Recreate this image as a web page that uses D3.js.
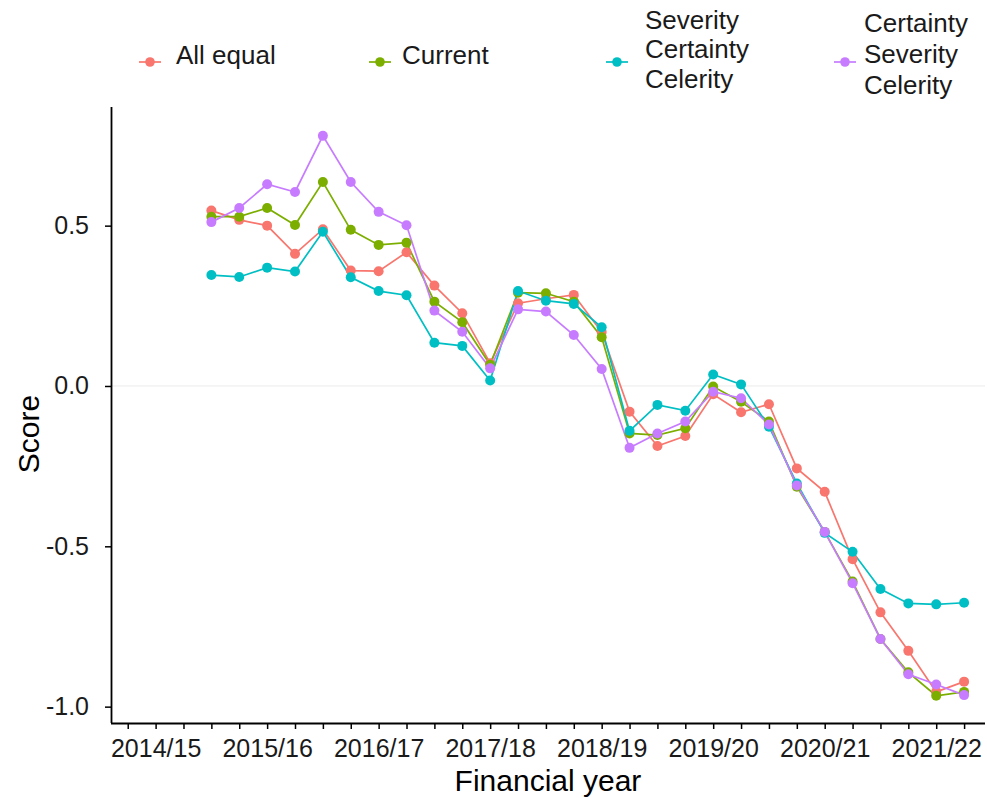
<!DOCTYPE html>
<html>
<head>
<meta charset="utf-8">
<script src="https://cdn.jsdelivr.net/npm/d3@7"></script>
<style>
  html, body { margin: 0; padding: 0; background: #fff; }
  svg { display: block; font-family: "Liberation Sans", Arial, sans-serif; }
</style>
</head>
<body>
<svg id="chart" width="987" height="798"></svg>
<script>
// Quarter index (0 = start of 2014/15 label position)
const quarters = [2,3,4,5,6,7,8,9,10,11,12,13,14,15,16,17,18,19,20,21,22,23,24,25,26,27,28,29];
const yearLabels = ["2014/15","2015/16","2016/17","2017/18","2018/19","2019/20","2020/21","2021/22"];
const yearTickQuarters = [0,4,8,12,16,20,24,28];
const yTicks = [0.5, 0.0, -0.5, -1.0];

const seriesNames = ["All equal", "Current", "Severity\nCertainty\nCelerity", "Certainty\nSeverity\nCelerity"];
const seriesColors = ["#F8766D", "#7CAE00", "#00BFC4", "#C77CFF"];

const allEqual = [0.547,0.518,0.500,0.412,0.489,0.360,0.358,0.417,0.313,0.227,0.071,0.258,0.272,0.284,0.168,-0.080,-0.187,-0.156,-0.026,-0.082,-0.057,-0.257,-0.330,-0.540,-0.706,-0.826,-0.954,-0.922];
const current = [0.528,0.528,0.555,0.502,0.636,0.487,0.440,0.447,0.263,0.199,0.066,0.291,0.289,0.263,0.152,-0.148,-0.153,-0.132,-0.002,-0.049,-0.111,-0.314,-0.455,-0.610,-0.789,-0.893,-0.966,-0.954];
const sevCertCel = [0.346,0.340,0.369,0.357,0.481,0.339,0.296,0.283,0.135,0.125,0.017,0.296,0.266,0.256,0.183,-0.140,-0.059,-0.077,0.036,0.005,-0.127,-0.304,-0.458,-0.517,-0.633,-0.678,-0.681,-0.676];
const certSevCel = [0.511,0.555,0.629,0.605,0.780,0.636,0.543,0.501,0.235,0.169,0.055,0.239,0.232,0.159,0.053,-0.193,-0.148,-0.111,-0.018,-0.038,-0.120,-0.310,-0.455,-0.615,-0.789,-0.899,-0.931,-0.964];

const seriesValues = [allEqual, current, sevCertCel, certSevCel];

const svg = d3.select("#chart");
const mLeft = 111, mRight = 985, mTop = 107, mBottom = 723;

const x = d3.scaleLinear().domain([-1.6, 29.75]).range([mLeft, mRight]);
const y = d3.scaleLinear().domain([0.87, -1.051]).range([mTop, mBottom]);

// zero reference line
svg.append("line")
  .attr("x1", mLeft).attr("x2", mRight)
  .attr("y1", y(0)).attr("y2", y(0))
  .attr("stroke", "#ebebeb").attr("stroke-width", 1);

// axes
const xAxis = d3.axisBottom(x)
  .tickValues(d3.range(-1, 30))
  .tickSize(6)
  .tickFormat(q => {
    const i = yearTickQuarters.indexOf(q);
    return i >= 0 ? yearLabels[i] : "";
  });
const gx = svg.append("g").attr("transform", `translate(0,${mBottom})`).call(xAxis);
gx.select(".domain").attr("d", `M${mLeft},0.5H${mRight}`).attr("stroke", "#000").attr("stroke-width", 1.8);
gx.selectAll(".tick line").attr("stroke", "#000").attr("stroke-width", 1.5);
gx.selectAll(".tick text").attr("font-size", 25).attr("fill", "#1a1a1a").attr("dy", "1.0em")
  .attr("font-family", "Liberation Sans, Arial, sans-serif");

const yAxis = d3.axisLeft(y).tickValues(yTicks).tickSize(6).tickFormat(d3.format(".1f"));
const gy = svg.append("g").attr("transform", `translate(${mLeft},0)`).call(yAxis);
gy.select(".domain").attr("d", `M0.5,${mTop}V${mBottom}`).attr("stroke", "#000").attr("stroke-width", 1.8);
gy.selectAll(".tick line").attr("stroke", "#000").attr("stroke-width", 1.5);
gy.selectAll(".tick text").attr("font-size", 25).attr("fill", "#1a1a1a").attr("x", -22)
  .attr("font-family", "Liberation Sans, Arial, sans-serif")
  .text(d => d3.format(".1f")(d).replace("−", "-"));

// axis titles
svg.append("text").attr("x", (mLeft + mRight) / 2).attr("y", 791)
  .attr("text-anchor", "middle").attr("font-size", 30).attr("fill", "#000").text("Financial year");
svg.append("text").attr("transform", `translate(39,${y(-0.15)}) rotate(-90)`)
  .attr("text-anchor", "middle").attr("font-size", 30).attr("fill", "#000").text("Score");

// lines
const line = d3.line().x((d, i) => x(quarters[i])).y(d => y(d));
const plot = svg.append("g");
seriesValues.forEach((vals, s) => {
  plot.append("path").datum(vals).attr("d", line)
    .attr("fill", "none").attr("stroke", seriesColors[s]).attr("stroke-width", 1.7);
});
seriesValues.forEach((vals, s) => {
  plot.selectAll(null).data(vals).enter().append("circle")
    .attr("cx", (d, i) => x(quarters[i])).attr("cy", d => y(d)).attr("r", 5)
    .attr("fill", seriesColors[s]);
});

// legend
const legendPos = [
  {kx: 150, tx: 176, ky: 62, baselines: [64]},
  {kx: 380, tx: 402, ky: 62, baselines: [64]},
  {kx: 617, tx: 645, ky: 62, baselines: [29, 58, 88]},
  {kx: 845, tx: 864, ky: 62, baselines: [32, 63, 94]}
];
seriesNames.forEach((name, s) => {
  const p = legendPos[s];
  const g = svg.append("g");
  g.append("line").attr("x1", p.kx - 11).attr("x2", p.kx + 11).attr("y1", p.ky).attr("y2", p.ky)
    .attr("stroke", seriesColors[s]).attr("stroke-width", 1.7);
  g.append("circle").attr("cx", p.kx).attr("cy", p.ky).attr("r", 4.8).attr("fill", seriesColors[s]);
  const t = g.append("text").attr("font-size", 26).attr("fill", "#1a1a1a");
  name.split("\n").forEach((ln, j) => {
    t.append("tspan").attr("x", p.tx).attr("y", p.baselines[j]).text(ln);
  });
});
</script>
</body>
</html>
